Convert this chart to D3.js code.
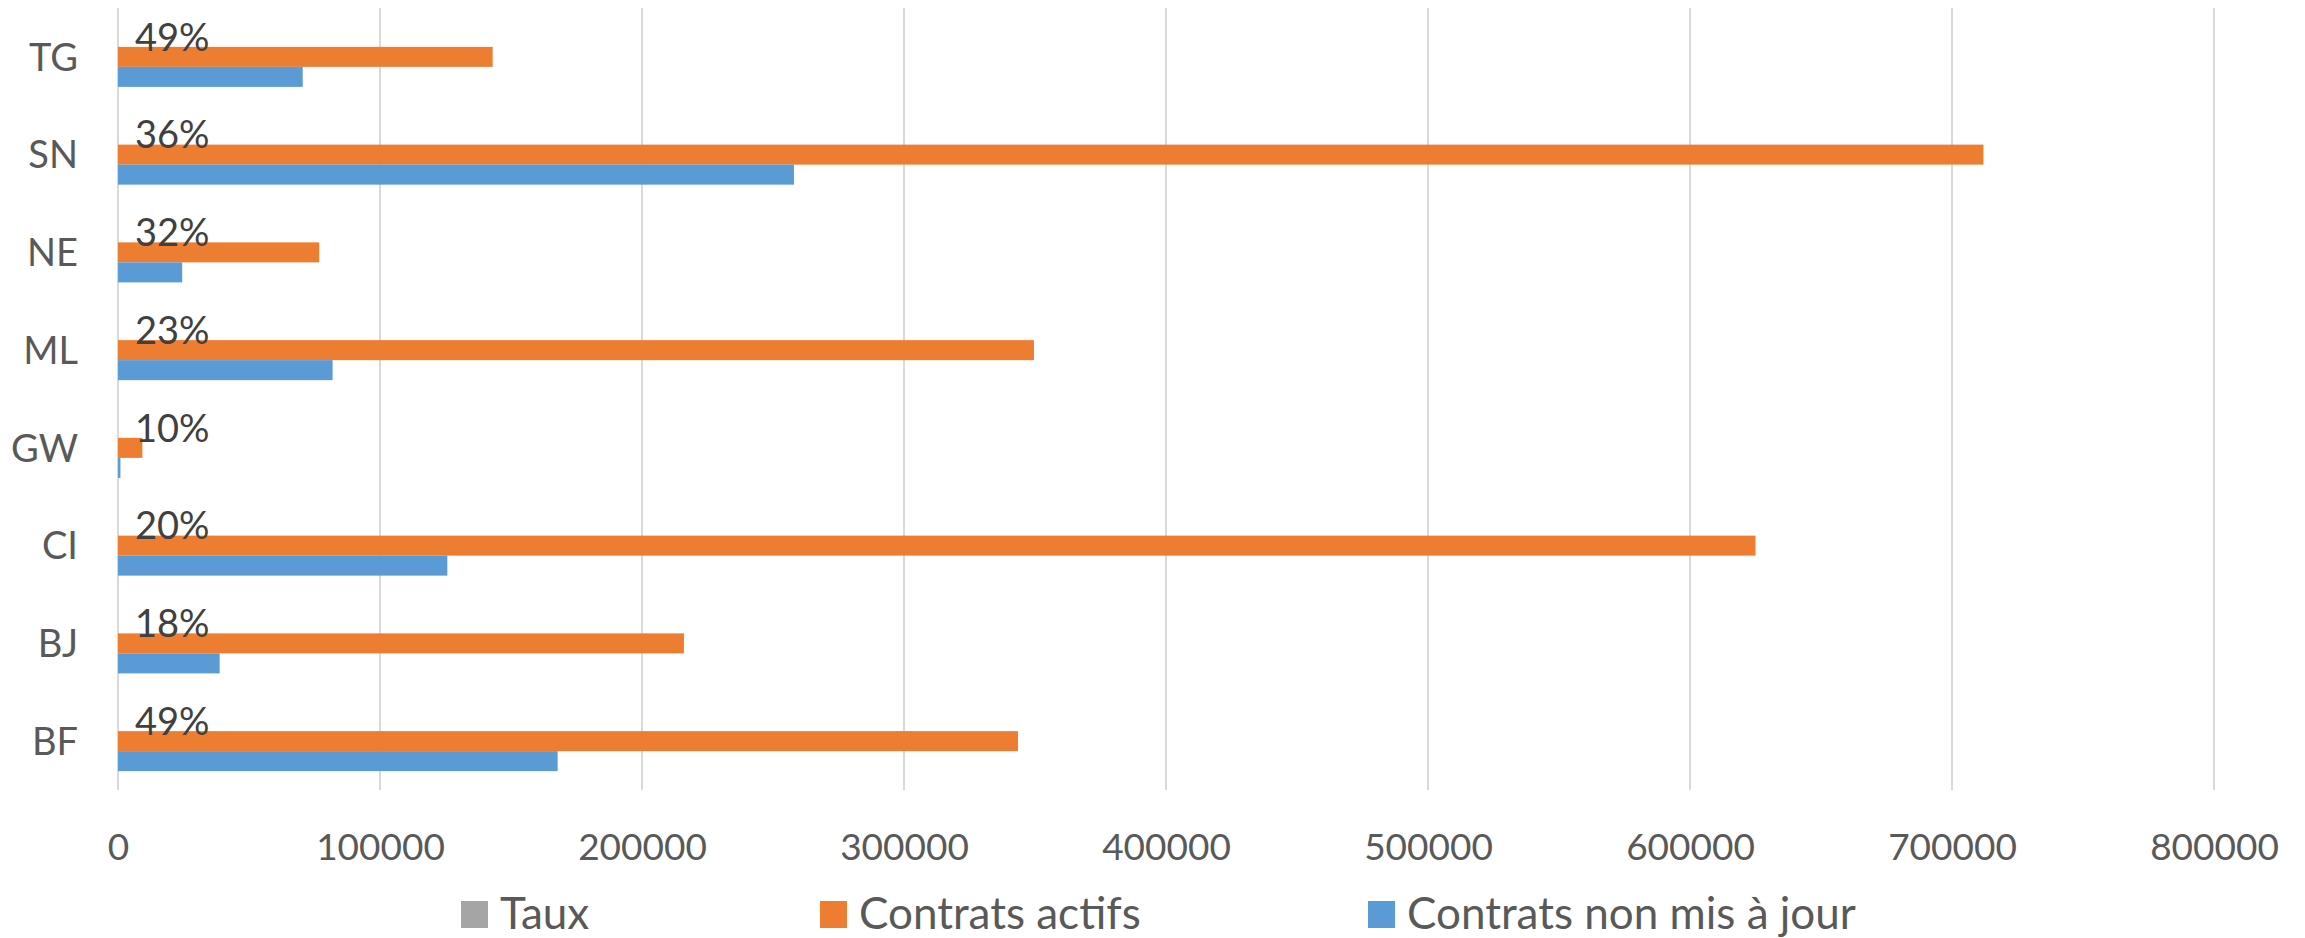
<!DOCTYPE html>
<html>
<head>
<meta charset="utf-8">
<script src="https://cdn.jsdelivr.net/npm/d3@7"></script>
<style>
  html, body { margin: 0; padding: 0; background: #fff; }
  svg { display: block; font-family: Lato, "Open Sans", sans-serif; }
</style>
</head>
<body>
<svg id="chart" width="2305" height="938"></svg>
<script>
// ---- Data ----
const categories = ["TG", "SN", "NE", "ML", "GW", "CI", "BJ", "BF"];
const taux = [0.49, 0.36, 0.32, 0.23, 0.10, 0.20, 0.18, 0.49];
const contratsActifs = [143000, 712000, 76800, 349600, 9300, 625000, 216000, 343500];
const contratsNonMisAJour = [70500, 258000, 24500, 81900, 930, 125700, 38800, 167800];
const xTicks = [0, 100000, 200000, 300000, 400000, 500000, 600000, 700000, 800000];
const seriesNames = ["Taux", "Contrats actifs", "Contrats non mis à jour"];
const seriesColors = ["#A5A5A5", "#ED7D31", "#5B9BD5"];

const seriesValues = [taux, contratsActifs, contratsNonMisAJour];

// ---- Layout ----
const svg = d3.select("#chart");
const plotLeft = 118, plotRight = 2214, plotTop = 8, plotBottom = 790;
const textColor = "#595959";

const x = d3.scaleLinear().domain([0, 800000]).range([plotLeft, plotRight]);
const y = d3.scaleBand().domain(categories).range([plotTop, plotBottom])
  .paddingInner(0.386).paddingOuter(0.193);
const ySub = d3.scaleBand().domain(seriesNames).range([0, y.bandwidth()]);

// gridlines
svg.append("g").selectAll("line").data(xTicks).join("line")
  .attr("x1", d => x(d)).attr("x2", d => x(d))
  .attr("y1", plotTop).attr("y2", plotBottom)
  .attr("stroke", "#D9D9D9").attr("stroke-width", 2);

// bars
seriesNames.forEach((name, si) => {
  svg.append("g").selectAll("rect").data(categories).join("rect")
    .attr("x", x(0))
    .attr("y", c => y(c) + ySub(name))
    .attr("width", (c, i) => Math.max(0, x(seriesValues[si][i]) - x(0)))
    .attr("height", ySub.bandwidth())
    .attr("fill", seriesColors[si]);
});

// Taux data labels
svg.append("g").selectAll("text").data(categories).join("text")
  .attr("x", (c, i) => x(taux[i]) + 17)
  .attr("y", c => y(c) + ySub("Taux") + ySub.bandwidth() / 2)
  .attr("dy", "0.36em")
  .attr("font-size", 38)
  .attr("fill", "#404040")
  .text((c, i) => Math.round(taux[i] * 100) + "%");

// y axis (category labels)
const yAxis = d3.axisLeft(y).tickSize(0).tickPadding(0);
const gy = svg.append("g").attr("transform", `translate(${plotLeft - 40},0)`).call(yAxis);
gy.select(".domain").remove();
gy.selectAll("text")
  .attr("font-size", 38).attr("fill", textColor)
  .attr("font-family", "Lato, sans-serif")
  .attr("dy", "0.36em");

// x axis
const xAxis = d3.axisBottom(x).tickValues(xTicks).tickFormat(d3.format("d")).tickSize(0).tickPadding(0);
const gx = svg.append("g").attr("transform", `translate(0,${plotBottom})`).call(xAxis);
gx.select(".domain").remove();
gx.selectAll("text")
  .attr("font-size", 37).attr("fill", textColor)
  .attr("font-family", "Lato, sans-serif")
  .attr("dy", null)
  .attr("y", 70);

// legend
const legendX = [461, 820, 1368];
const legend = svg.append("g").selectAll("g").data(seriesNames).join("g")
  .attr("transform", (d, i) => `translate(${legendX[i]},901)`);
legend.append("rect").attr("width", 27).attr("height", 27)
  .attr("fill", (d, i) => seriesColors[i]);
legend.append("text").attr("x", 39).attr("y", 28)
  .attr("font-size", 44).attr("fill", textColor)
  .text(d => d);
</script>
</body>
</html>
